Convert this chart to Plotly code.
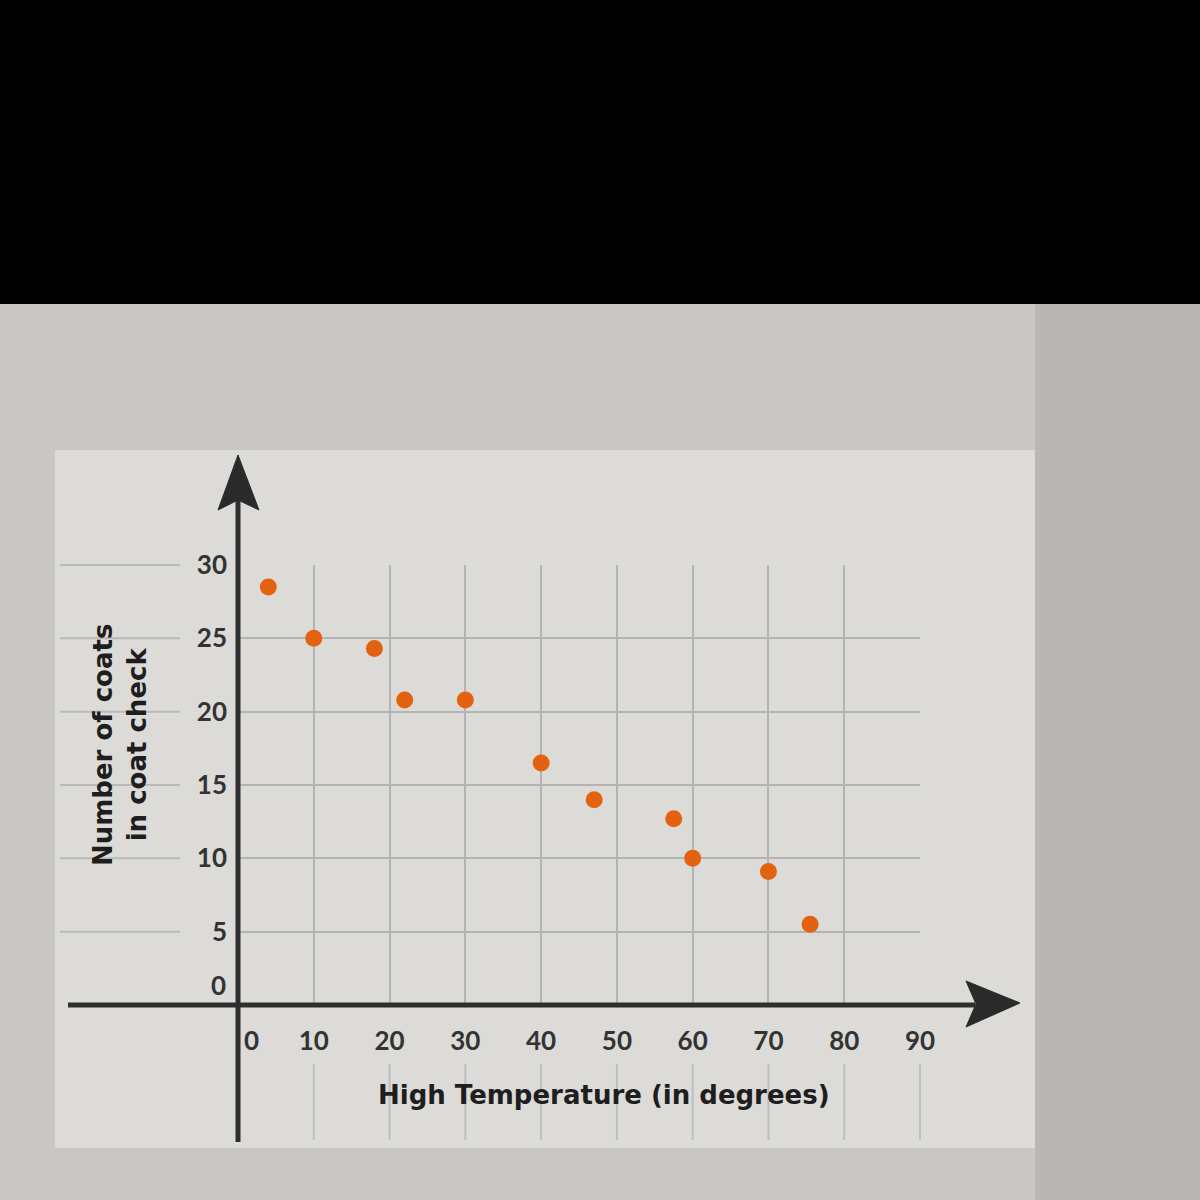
import plotly.graph_objects as go

# ---- data ----
temperature = [4, 10, 18, 22, 30, 40, 47, 57.5, 60, 70, 75.5]
coats = [28.5, 25, 24.3, 20.8, 20.8, 16.5, 14, 12.7, 10, 9.1, 5.5]
x_ticks = [0, 10, 20, 30, 40, 50, 60, 70, 80, 90]
y_ticks = [0, 5, 10, 15, 20, 25, 30]
x_title = "High Temperature (in degrees)"
y_title = "Number of coats<br>in coat check"

W, H = 1200, 1200
L, R, T, B = 238, 280, 565, 195
PW, PH = W - L - R, H - T - B


def px(x):
    return (x - L) / PW


def py(y):
    return (H - B - y) / PH


fig = go.Figure()
fig.add_trace(go.Scatter(
    x=temperature, y=coats, mode="markers",
    marker=dict(size=17, color="#e2620f", line=dict(width=0)),
    showlegend=False, hoverinfo="x+y",
))

shapes = []
# photo background regions
shapes.append(dict(type="rect", xref="paper", yref="paper", x0=px(0), x1=px(1200),
                   y0=py(300), y1=py(1200), fillcolor="#c9c7c3", line=dict(width=0), layer="below"))
shapes.append(dict(type="rect", xref="paper", yref="paper", x0=px(55), x1=px(1035),
                   y0=py(450), y1=py(1148), fillcolor="#dcdbd8", line=dict(width=0), layer="below"))
shapes.append(dict(type="rect", xref="paper", yref="paper", x0=px(1035), x1=px(1200),
                   y0=py(300), y1=py(1200), fillcolor="#b9b7b3", line=dict(width=0), layer="below"))
shapes.append(dict(type="rect", xref="paper", yref="paper", x0=px(0), x1=px(1200),
                   y0=py(0), y1=py(304), fillcolor="#000000", line=dict(width=0), layer="below"))

# faint grid extensions outside the plotting grid
for yv in y_ticks[1:]:
    yy = py(H - B - yv * PH / 30)
    shapes.append(dict(type="line", xref="paper", yref="paper", x0=px(60), x1=px(180),
                       y0=yy, y1=yy, line=dict(color="#b9b9b9", width=2), layer="below"))
for xv in x_ticks[1:]:
    xx = xv / 90
    shapes.append(dict(type="line", xref="paper", yref="paper", x0=xx, x1=xx,
                       y0=py(1064), y1=py(1140), line=dict(color="#bdbdbd", width=2), layer="below"))

# axis lines with arrowheads
shapes.append(dict(type="line", xref="paper", yref="paper", x0=px(238), x1=px(238),
                   y0=py(1142), y1=py(495), line=dict(color="#2e2e2e", width=5)))
shapes.append(dict(type="line", xref="paper", yref="paper", x0=px(68), x1=px(975),
                   y0=py(1005), y1=py(1005), line=dict(color="#2e2e2e", width=5)))
shapes.append(dict(type="path", xref="paper", yref="paper",
                   path=f"M {px(238)} {py(455)} L {px(218)} {py(510)} L {px(238)} {py(500)} L {px(259)} {py(510)} Z",
                   fillcolor="#2a2a2a", line=dict(color="#2a2a2a", width=1)))
shapes.append(dict(type="path", xref="paper", yref="paper",
                   path=f"M {px(1020)} {py(1003)} L {px(966)} {py(981)} L {px(976)} {py(1004)} L {px(966)} {py(1027)} Z",
                   fillcolor="#2a2a2a", line=dict(color="#2a2a2a", width=1)))

tick_font = dict(family="Lato, 'Open Sans', sans-serif", size=26, color="#333333", weight="bold")
title_font = dict(family="'DejaVu Sans', sans-serif", size=26, color="#1e1e1e", weight="bold")

annotations = [
    # the "0" labels sit off the crossing point of the axes
    dict(x=0, y=0, xref="x", yref="y", text=str(y_ticks[0]), showarrow=False,
         xanchor="right", yanchor="middle", xshift=-10, yshift=20, font=tick_font),
    dict(x=0, y=0, xref="x", yref="y", text=str(x_ticks[0]), showarrow=False,
         xanchor="center", yanchor="top", xshift=13, yshift=-17, font=tick_font),
    # axis titles
    dict(x=px(604), y=py(1095), xref="paper", yref="paper", text=x_title, showarrow=False,
         xanchor="center", yanchor="middle", font=title_font),
    dict(x=px(120), y=py(745), xref="paper", yref="paper", text=y_title, showarrow=False,
         xanchor="center", yanchor="middle", textangle=-90, font=title_font),
]

fig.update_layout(
    width=W, height=H,
    margin=dict(l=L, r=R, t=T, b=B, pad=0),
    paper_bgcolor="#c9c7c3",
    plot_bgcolor="rgba(0,0,0,0)",
    shapes=shapes,
    annotations=annotations,
    xaxis=dict(
        range=[0, 90], tickvals=x_ticks[1:], ticktext=[str(v) for v in x_ticks[1:]],
        showgrid=True, gridcolor="#b3b3b3", gridwidth=2,
        zeroline=False, showline=False, ticks="",
        ticklabelstandoff=18,
        tickfont=tick_font,
        fixedrange=True,
    ),
    yaxis=dict(
        range=[0, 30], tickvals=y_ticks[1:], ticktext=[str(v) for v in y_ticks[1:]],
        showgrid=True, gridcolor="#b3b3b3", gridwidth=2,
        zeroline=False, showline=False, ticks="",
        ticklabelstandoff=10,
        tickfont=tick_font,
        fixedrange=True,
    ),
)

fig.write_html("out.html", config={"displayModeBar": False},
               post_script="document.body.style.margin='0px';")
